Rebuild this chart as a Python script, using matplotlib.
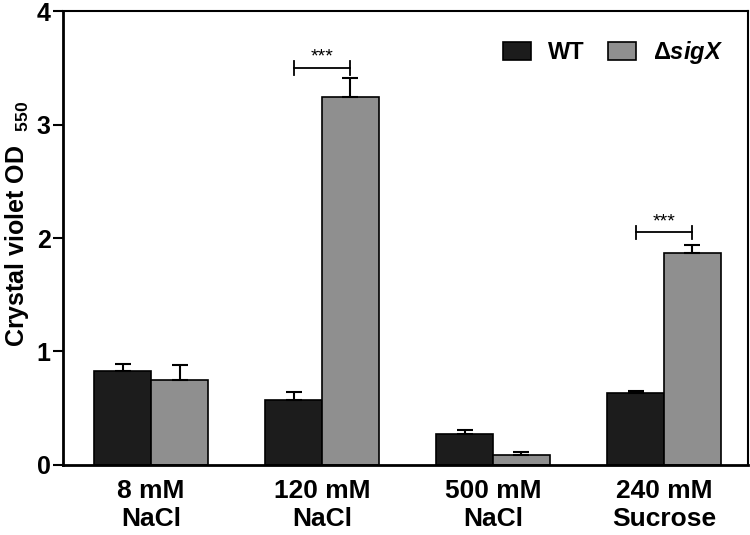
import matplotlib.pyplot as plt
import numpy as np

plt.rcParams['font.family'] = 'Liberation Sans'
plt.rcParams['font.weight'] = 'bold'
plt.rcParams['mathtext.fontset'] = 'custom'
plt.rcParams['mathtext.rm'] = 'Liberation Sans:bold'
plt.rcParams['mathtext.it'] = 'Liberation Sans:bold:italic'

# Data
conditions = ["8 mM\nNaCl", "120 mM\nNaCl", "500 mM\nNaCl", "240 mM\nSucrose"]
wt_mean = [0.83, 0.57, 0.27, 0.63]
wt_err = [0.06, 0.07, 0.04, 0.02]
sigx_mean = [0.75, 3.24, 0.09, 1.87]
sigx_err = [0.13, 0.17, 0.02, 0.07]

# significance brackets (group index, bracket height)
sig_groups = [1, 3]
sig_y = [3.5, 2.05]

x = np.arange(len(conditions))
width = 0.333

fig = plt.figure(figsize=(7.5, 5.35), dpi=100)
ax = fig.add_axes([0.084, 0.131, 0.913, 0.848])

ekw = dict(elinewidth=1.5, capthick=1.5)
ax.bar(x - width/2, wt_mean, width, color='#1c1c1c', edgecolor='black', linewidth=1.2,
       yerr=[np.zeros(len(x)), wt_err], capsize=6, error_kw=ekw, label='WT')
ax.bar(x + width/2, sigx_mean, width, color='#8f8f8f', edgecolor='black', linewidth=1.2,
       yerr=[np.zeros(len(x)), sigx_err], capsize=6, error_kw=ekw,
       label=r'$\Delta\mathit{sigX}$')

for g, yb in zip(sig_groups, sig_y):
    x0, x1 = g - width/2, g + width/2
    ax.plot([x0, x1], [yb, yb], color='black', lw=1.3)
    ax.plot([x0, x0], [yb - 0.06, yb + 0.06], color='black', lw=1.3)
    ax.plot([x1, x1], [yb - 0.06, yb + 0.06], color='black', lw=1.3)
    ax.text(g, yb + 0.02, '***', ha='center', va='bottom', fontsize=14, fontweight='normal')

ax.set_xlim(-0.515, 3.49)
ax.set_ylim(0, 4)
ax.set_yticks([0, 1, 2, 3, 4])
ax.set_xticks(x)
ax.set_xticklabels(conditions, fontsize=19, fontweight='bold', linespacing=1.2)
ax.tick_params(axis='x', length=0, pad=10)
ax.tick_params(axis='y', labelsize=18, width=1.5, length=7, direction='out', pad=2)
ax.set_ylabel(r'Crystal violet OD  $_{550}$', fontsize=18, fontweight='bold', va='top')
ax.yaxis.set_label_coords(-0.088, 0.53)

for side in ['left', 'bottom']:
    ax.spines[side].set_linewidth(2)
for side in ['top', 'right']:
    ax.spines[side].set_linewidth(1.5)

ax.legend(loc='upper right', ncol=2, frameon=False, fontsize=17, handlelength=1.2,
          handleheight=0.8, handletextpad=0.7, columnspacing=1.0,
          bbox_to_anchor=(0.995, 0.985))

fig.savefig('out.png', dpi=100)
